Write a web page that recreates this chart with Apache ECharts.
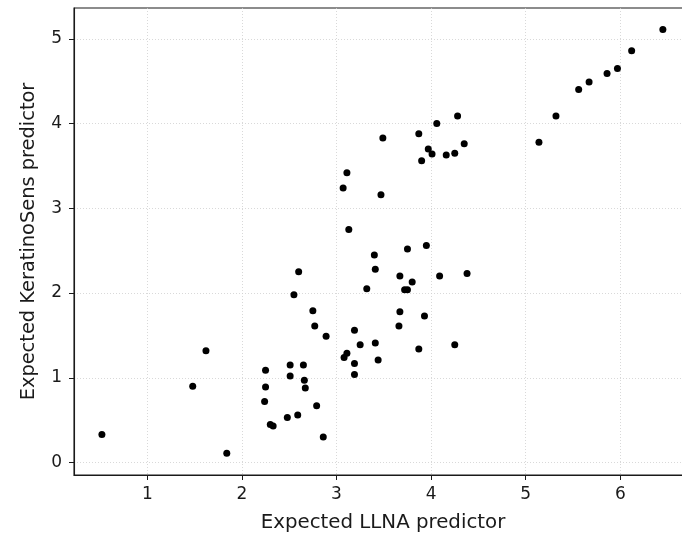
<!DOCTYPE html>
<html>
<head>
<meta charset="utf-8">
<script src="https://cdn.jsdelivr.net/npm/echarts@6/dist/echarts.min.js"></script>
<style>
  html, body { margin: 0; padding: 0; background: #fff; overflow: hidden; }
  /* the original figure is cut off on the right, so the chart is a bit wider than the window */
  #chart_1 { width: 692px; height: 536px; }
</style>
</head>
<body>
<div id="chart_1"></div>
<script>
// Expected LLNA predictor (x)
const llnaValues = [
  0.52, 1.48, 1.62, 1.84, 2.25, 2.25, 2.24, 2.30, 2.33, 2.48,
  2.51, 2.51, 2.59, 2.65, 2.66, 2.67, 2.79, 2.86, 2.55, 2.60,
  2.75, 2.77, 2.89, 3.08, 3.11, 3.19, 3.19, 3.19, 3.25, 3.41,
  3.44, 3.32, 3.40, 3.41, 3.13, 3.07, 3.11, 3.47, 3.49, 3.66,
  3.67, 3.67, 3.72, 3.75, 3.75, 3.80, 3.87, 3.93, 3.95, 4.09,
  4.25, 4.38, 3.87, 3.90, 3.97, 4.01, 4.06, 4.16, 4.25, 4.28,
  4.35, 5.14, 5.32, 5.56, 5.67, 5.86, 5.97, 6.12, 6.45
]
// Expected KeratinoSens predictor (y)
const keratinoValues = [
  0.33, 0.90, 1.32, 0.11, 1.09, 0.89, 0.72, 0.45, 0.43, 0.53,
  1.15, 1.02, 0.56, 1.15, 0.97, 0.88, 0.67, 0.30, 1.98, 2.25,
  1.79, 1.61, 1.49, 1.24, 1.29, 1.17, 1.04, 1.56, 1.39, 1.41,
  1.21, 2.05, 2.45, 2.28, 2.75, 3.24, 3.42, 3.16, 3.83, 1.61,
  1.78, 2.20, 2.04, 2.04, 2.52, 2.13, 1.34, 1.73, 2.56, 2.20,
  1.39, 2.23, 3.88, 3.56, 3.70, 3.64, 4.00, 3.63, 3.65, 4.09,
  3.76, 3.78, 4.09, 4.40, 4.49, 4.59, 4.65, 4.86, 5.11
]
const xTicks = [1, 2, 3, 4, 5, 6]
const yTicks = [0, 1, 2, 3, 4, 5]

const points = llnaValues.map((x, i) => [x, keratinoValues[i]])

let dom_1 = document.getElementById('chart_1')
let chart_1 = echarts.init(dom_1)

const textColor = '#1a1a1a'
const font = 'DejaVu Sans'

const option = {
  animation: false,
  backgroundColor: '#fff',
  grid: {
    left: 74,
    right: 0,
    top: 8,
    bottom: 61,
    outerBoundsMode: 'none',
    show: true,
    borderColor: '#1a1a1a',
    borderWidth: 1.1
  },
  xAxis: {
    type: 'value',
    min: 0.225,
    max: 6.758,
    name: 'Expected LLNA predictor',
    nameLocation: 'middle',
    nameGap: 38,
    nameTextStyle: { color: textColor, fontSize: 19.8, fontFamily: font },
    axisLine: { show: true, onZero: false, lineStyle: { color: '#1a1a1a', width: 1.1 } },
    axisTick: { show: true, length: 5, customValues: xTicks, lineStyle: { color: '#1a1a1a' } },
    axisLabel: { customValues: xTicks, color: textColor, fontSize: 17, fontFamily: font, margin: 11 },
    splitLine: {
      show: true,
      customValues: xTicks,
      lineStyle: { color: '#cfcfcf', type: [1, 2], width: 0.8 }
    }
  },
  yAxis: {
    type: 'value',
    min: -0.147,
    max: 5.363,
    name: 'Expected KeratinoSens predictor',
    nameLocation: 'middle',
    nameGap: 36,
    nameTextStyle: { color: textColor, fontSize: 19.4, fontFamily: font },
    axisLine: { show: true, onZero: false, lineStyle: { color: '#1a1a1a', width: 1.1 } },
    axisTick: { show: true, length: 5, customValues: yTicks, lineStyle: { color: '#1a1a1a' } },
    axisLabel: { customValues: yTicks, color: textColor, fontSize: 17, fontFamily: font, margin: 12 },
    splitLine: {
      show: true,
      customValues: yTicks,
      lineStyle: { color: '#cfcfcf', type: [1, 2], width: 0.8 }
    }
  },
  series: [
    {
      type: 'scatter',
      symbol: 'circle',
      symbolSize: 7,
      itemStyle: { color: '#000', opacity: 1 },
      data: points
    }
  ]
}

chart_1.setOption(option)
</script>
</body>
</html>
